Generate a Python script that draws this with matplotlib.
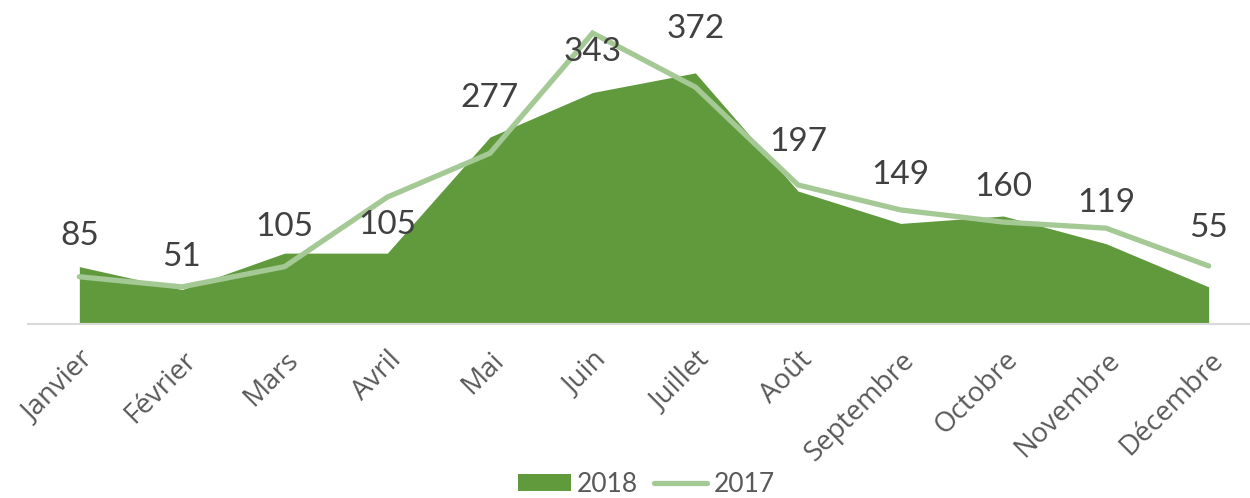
import numpy as np
import matplotlib.pyplot as plt

months = ['Janvier', 'Février', 'Mars', 'Avril', 'Mai', 'Juin', 'Juillet',
          'Août', 'Septembre', 'Octobre', 'Novembre', 'Décembre']
vals_2018 = [85, 51, 105, 105, 277, 343, 372, 197, 149, 160, 119, 55]
vals_2017 = [70, 55, 85, 188, 253, 431, 351, 206, 169, 151, 142, 86]

# vertical pixel offsets of the value labels (as placed in the original)
label_dy = [31, 33, 26, 28, 39, 40, 44, 49, 48, 29, 41, 59]

x = np.arange(len(months))

fig = plt.figure(figsize=(12.5, 4.98), dpi=100)
ax = fig.add_axes([28 / 1250, 174 / 498, 1232 / 1250, 324 / 498])

ax.fill_between(x, vals_2018, 0, color='#619A3D', linewidth=0, label='2018')
ax.plot(x, vals_2017, color='#A5C995', linewidth=3.8, solid_capstyle='round',
        solid_joinstyle='miter', label='2017')

for xi, v, dy in zip(x, vals_2018, label_dy):
    ax.annotate(str(v), (xi, v), xytext=(0, dy), textcoords='offset pixels',
                ha='center', va='center', fontsize=24, color='#404040',
                family='Lato')

ax.set_xlim(-0.5, 11.5)
ax.set_ylim(0, 480)
ax.set_yticks([])
ax.set_xticks(x)
ax.set_xticklabels(months, rotation=45, ha='right', rotation_mode='anchor',
                   fontsize=20, color='#595959', family='Open Sans')
ax.tick_params(axis='x', length=0, pad=16)
for s in ['top', 'right', 'left']:
    ax.spines[s].set_visible(False)
ax.spines['bottom'].set_color('#D9D9D9')
ax.spines['bottom'].set_linewidth(1.5)

fig.legend(loc='lower center', bbox_to_anchor=(0.517, -0.045), ncol=2, frameon=False,
           prop={'family': 'Lato', 'size': 19}, labelcolor='#595959',
           handlelength=2.0, handleheight=0.65, columnspacing=0.6, handletextpad=0.25)

fig.savefig('out.png', dpi=100)
